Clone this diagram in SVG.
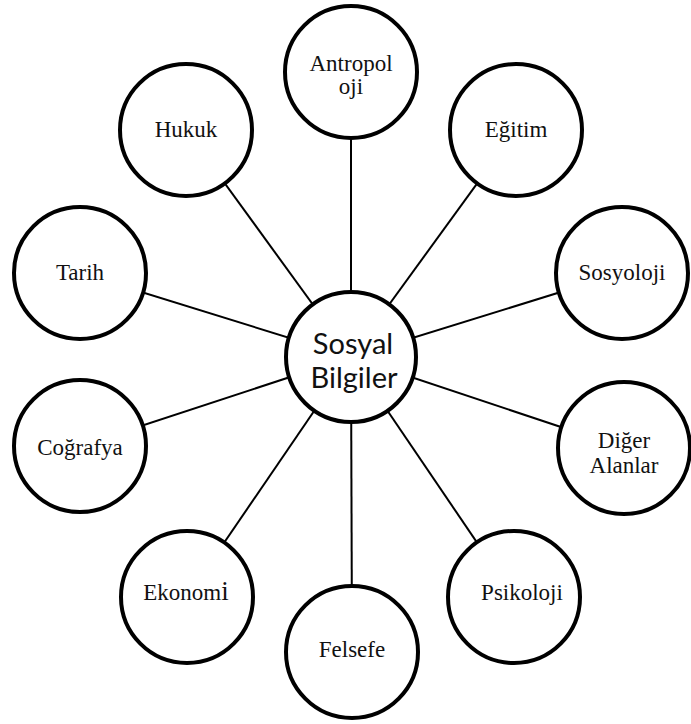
<svg xmlns="http://www.w3.org/2000/svg" width="691" height="724" viewBox="0 0 691 724">
<style>
.node{fill:#fff;stroke:#000;stroke-width:4}
.lbl{font-family:'Liberation Serif','Times New Roman',serif;font-size:23px;fill:#111;text-anchor:middle}
.hub{font-family:Lato,'Open Sans','Liberation Sans',sans-serif;font-size:29px;fill:#111;text-anchor:middle}
.conn line{stroke:#000;stroke-width:2}
</style>
<rect width="691" height="724" fill="#fff"/>
<g id="connectors" class="conn">
<line x1="351" y1="357" x2="351" y2="72"/>
<line x1="351" y1="357" x2="186" y2="130"/>
<line x1="351" y1="357" x2="516" y2="130"/>
<line x1="351" y1="357" x2="80" y2="273"/>
<line x1="351" y1="357" x2="622" y2="273"/>
<line x1="351" y1="357" x2="80" y2="446"/>
<line x1="351" y1="357" x2="624" y2="448"/>
<line x1="351" y1="357" x2="187" y2="597"/>
<line x1="351" y1="357" x2="514" y2="597"/>
<line x1="351" y1="357" x2="352" y2="652"/>
</g>
<g id="antropoloji"><circle class="node" cx="351" cy="72" r="66"/><text class="lbl" x="351" y="71">Antropol</text><text class="lbl" x="351" y="94">oji</text></g>
<g id="hukuk"><circle class="node" cx="186" cy="130" r="66"/><text class="lbl" x="186" y="137">Hukuk</text></g>
<g id="egitim"><circle class="node" cx="516" cy="130" r="66"/><text class="lbl" x="516" y="137">Eğitim</text></g>
<g id="tarih"><circle class="node" cx="80" cy="273" r="66"/><text class="lbl" x="80" y="280">Tarih</text></g>
<g id="sosyoloji"><circle class="node" cx="622" cy="273" r="66"/><text class="lbl" x="622" y="280">Sosyoloji</text></g>
<g id="sosyal-bilgiler"><circle class="node" cx="351" cy="357" r="65"/><text class="hub" x="353" y="354">Sosyal</text><text class="hub" x="354" y="388">Bilgiler</text></g>
<g id="cografya"><circle class="node" cx="80" cy="446" r="66"/><text class="lbl" x="80" y="455">Coğrafya</text></g>
<g id="diger-alanlar"><circle class="node" cx="624" cy="448" r="66"/><text class="lbl" x="624" y="448">Diğer</text><text class="lbl" x="624" y="473">Alanlar</text></g>
<g id="ekonomi"><circle class="node" cx="187" cy="597" r="66"/><text class="lbl" x="186" y="600">Ekonom<tspan font-size="27">i</tspan></text></g>
<g id="psikoloji"><circle class="node" cx="514" cy="597" r="66"/><text class="lbl" x="522" y="600">Psikoloji</text></g>
<g id="felsefe"><circle class="node" cx="352" cy="652" r="66"/><text class="lbl" x="352" y="657">Felsefe</text></g>
</svg>
